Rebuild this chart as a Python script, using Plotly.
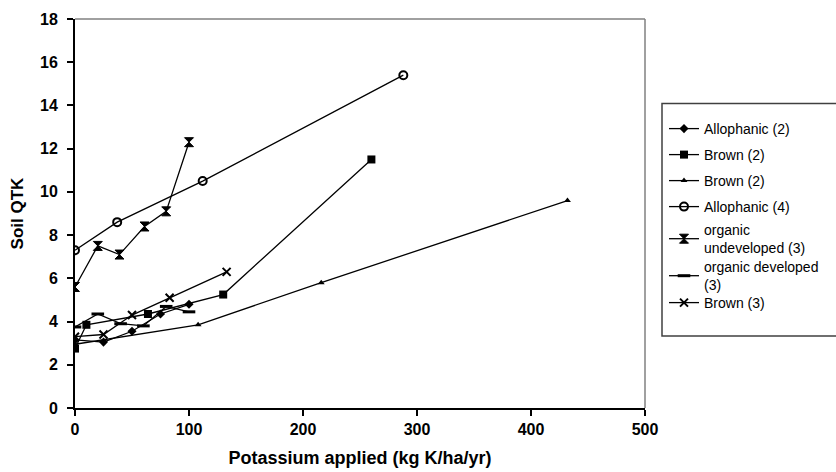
import plotly.graph_objects as go

# Data (x: potassium applied, kg K/ha/yr; y: Soil QTK)
allophanic2_x = [0, 25, 50, 75, 100]
allophanic2_y = [3.15, 3.05, 3.55, 4.35, 4.8]

brown2sq_x = [0, 10, 64, 130, 260]
brown2sq_y = [2.75, 3.85, 4.35, 5.25, 11.5]

brown2tri_x = [0, 108, 216, 432]
brown2tri_y = [2.95, 3.85, 5.8, 9.6]

allophanic4_x = [0, 37, 112, 288]
allophanic4_y = [7.3, 8.6, 10.5, 15.4]

org_undev_x = [0, 20, 39, 61, 80, 100]
org_undev_y = [5.6, 7.5, 7.1, 8.4, 9.1, 12.3]

org_dev_x = [0, 20, 40, 60, 80, 100]
org_dev_y = [3.75, 4.35, 3.9, 3.8, 4.7, 4.45]

brown3_x = [0, 25, 50, 83, 133]
brown3_y = [3.3, 3.4, 4.3, 5.1, 6.3]

names = ["Allophanic (2)", "Brown (2)", "Brown (2)", "Allophanic (4)",
         "organic<br>undeveloped (3)", "organic developed<br>(3)", "Brown (3)"]

series = [
    (allophanic2_x, allophanic2_y, dict(symbol="diamond", size=7, color="black")),
    (brown2sq_x, brown2sq_y, dict(symbol="square", size=8, color="black")),
    (brown2tri_x, brown2tri_y, dict(symbol="triangle-up", size=6, color="black")),
    (allophanic4_x, allophanic4_y, dict(symbol="circle-open", size=8, color="black",
                                        line=dict(width=2, color="black"))),
    (org_undev_x, org_undev_y, dict(symbol="hourglass", size=9, color="black",
                                    line=dict(width=1, color="black"))),
    (org_dev_x, org_dev_y, dict(symbol="line-ew-open", size=9, color="black",
                                line=dict(width=3, color="black"))),
    (brown3_x, brown3_y, dict(symbol="x-thin-open", size=8, color="black",
                              line=dict(width=2, color="black"))),
]

# legend entry vertical centres (pixels from top)
legend_centres = [129, 155, 181, 207, 239, 276, 303]

L, R, T, B = 75, 191, 19, 64
W, H = 836, 472
pw = W - L - R
ph = H - T - B

def px2paper_x(px):
    return (px - L) / pw

def px2paper_y(py):
    return (H - B - py) / ph

FONT = "Liberation Sans, Arial, sans-serif"

fig = go.Figure()
layout_legends = {}
for i, ((xs, ys, mk), nm) in enumerate(zip(series, names)):
    key = "legend" if i == 0 else f"legend{i+1}"
    fig.add_trace(go.Scatter(
        x=xs, y=ys, mode="lines+markers", name=nm,
        line=dict(color="black", width=1.3),
        marker=mk, legend=key))
    layout_legends[key] = dict(
        x=px2paper_x(664), y=px2paper_y(legend_centres[i]),
        xanchor="left", yanchor="middle", xref="paper", yref="paper",
        font=dict(size=14, color="black", family=FONT),
        bgcolor="rgba(0,0,0,0)", itemwidth=30)

fig.update_layout(
    width=W, height=H,
    margin=dict(l=L, r=R, t=T, b=B, autoexpand=False),
    paper_bgcolor="white", plot_bgcolor="white",
    font=dict(family=FONT, color="black"),
    showlegend=True,
    xaxis=dict(range=[0, 500], tickvals=[0, 100, 200, 300, 400, 500],
               showgrid=False, zeroline=False, showline=True, linecolor="black",
               linewidth=2, ticks="outside", ticklen=6, tickwidth=1.5, tickcolor="black",
               tickfont=dict(size=16, family=FONT, weight="bold"),
               title=dict(text="Potassium applied (kg K/ha/yr)",
                          font=dict(size=18, weight="bold"), standoff=14)),
    yaxis=dict(range=[0, 18], tickvals=list(range(0, 19, 2)),
               showgrid=False, zeroline=False, showline=True, linecolor="black",
               linewidth=2, ticks="outside", ticklen=6, tickwidth=1.5, tickcolor="black",
               ticklabelstandoff=6,
               tickfont=dict(size=16, family=FONT, weight="bold"),
               title=dict(text="Soil QTK", font=dict(size=17, weight="bold"), standoff=12)),
    **layout_legends,
)

# top and right plot borders (grey)
fig.add_shape(type="line", xref="paper", yref="paper", x0=0, x1=1, y0=1, y1=1,
              line=dict(color="#808080", width=1.5))
fig.add_shape(type="line", xref="paper", yref="paper", x0=1, x1=1, y0=0, y1=1,
              line=dict(color="#808080", width=1.5))
# legend box
fig.add_shape(type="rect", xref="paper", yref="paper",
              x0=px2paper_x(662), x1=px2paper_x(845),
              y0=px2paper_y(336), y1=px2paper_y(103.5),
              line=dict(color="#404040", width=1.5))

fig.write_html("out.html")
